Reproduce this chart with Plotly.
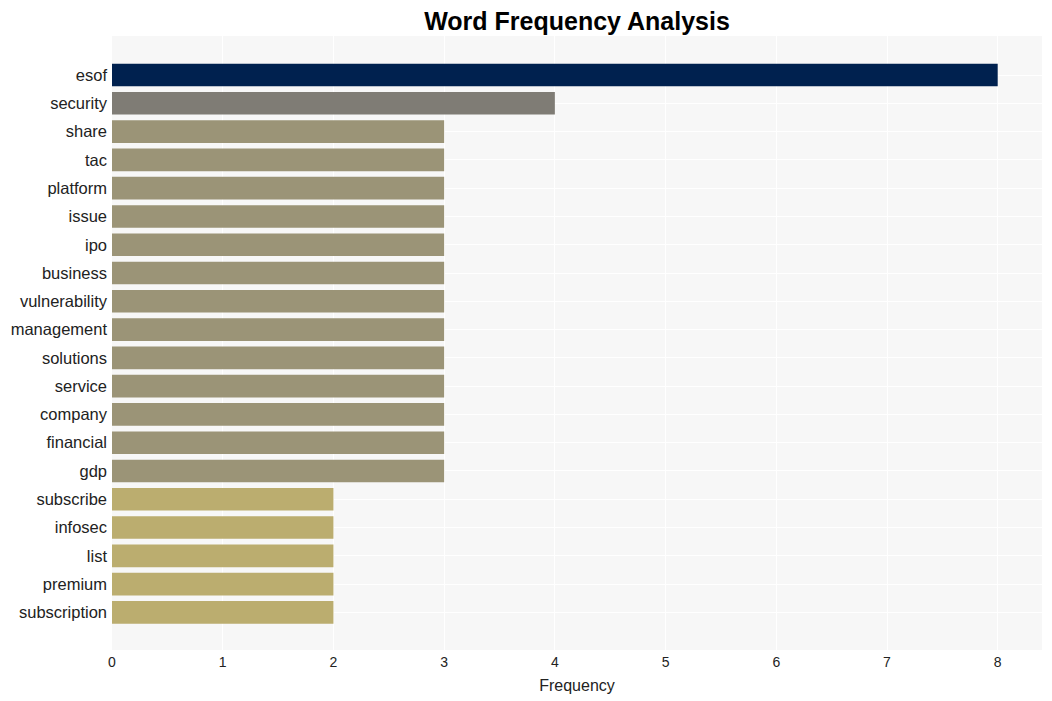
import plotly.graph_objects as go

words = ["esof", "security", "share", "tac", "platform", "issue", "ipo", "business",
         "vulnerability", "management", "solutions", "service", "company", "financial",
         "gdp", "subscribe", "infosec", "list", "premium", "subscription"]
counts = [8, 4, 3, 3, 3, 3, 3, 3, 3, 3, 3, 3, 3, 3, 3, 2, 2, 2, 2, 2]
color_by_count = {8: "#00214f", 4: "#7f7c75", 3: "#9b9477", 2: "#bbad6f"}
colors = [color_by_count[c] for c in counts]

fig = go.Figure(go.Bar(
    x=counts, y=words, orientation="h",
    marker=dict(color=colors, line=dict(width=0)),
    width=0.8,
))

fig.update_layout(
    width=1044, height=693,
    margin=dict(l=104, r=10, t=28, b=51, autoexpand=False),
    paper_bgcolor="white",
    plot_bgcolor="#f7f7f7",
    font=dict(family="Liberation Sans, Arial, sans-serif", color="#222"),
    title=dict(text="<b>Word Frequency Analysis</b>", x=0.5, xanchor="center",
               xref="paper", y=1 - 13 / 693, yref="container", yanchor="middle",
               font=dict(size=25, color="black"), automargin=False),
    xaxis=dict(title=dict(text="Frequency", font=dict(size=16), standoff=10),
               range=[0, 8.4], dtick=1, showgrid=True, gridcolor="white",
               gridwidth=1, zeroline=False, tickfont=dict(size=14),
               ticks="", showline=False, automargin=False, ticklabelstandoff=2),
    yaxis=dict(autorange=False, range=[20 - 1 + 1.33, -1.38], type="category",
               showgrid=True, gridcolor="white", gridwidth=1,
               tickfont=dict(size=16.5), ticks="", ticklabelstandoff=4,
               automargin=False),
    showlegend=False,
    bargap=0.2,
)

fig.write_html("out.html")
